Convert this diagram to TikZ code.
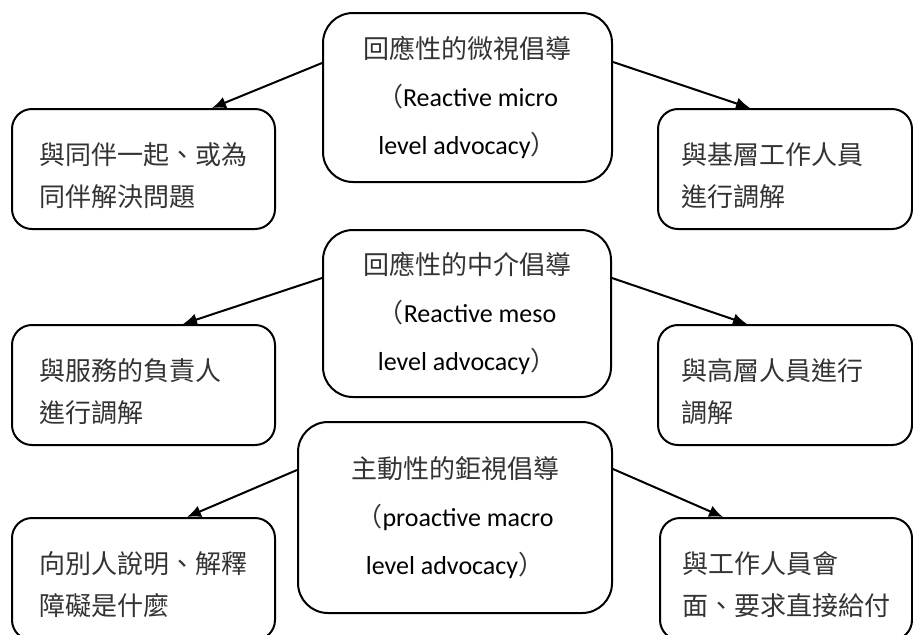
\documentclass[tikz,border=0pt]{standalone}
\usepackage{fontspec}
\setmainfont{Carlito}
\newfontfamily\cjkfont{Noto Sans CJK TC}
\newcommand\cjk{\cjkfont\color{black!80}}
\usetikzlibrary{arrows.meta,positioning,calc}
\tikzset{
  % Advocacy level box: centre column, three lines
  advbox/.style={draw, rectangle, rounded corners=15pt, line width=1pt,
                 align=center, inner sep=0pt,
                 font=\fontsize{13pt}{24pt}\selectfont},
  % Action box: side columns, two lines, left aligned
  actbox/.style={draw, rectangle, rounded corners=10pt, line width=1pt,
                 minimum width=131.5pt, minimum height=60pt,
                 text width=104pt, align=left, inner sep=0pt,
                 font=\fontsize{13pt}{21pt}\selectfont},
  actbox-right/.style={actbox, minimum width=127pt},
  % Push the text block down a little inside its box
  textdrop/.style={execute at begin node={\rule{0pt}{#1}}},
  % Arrows
  flowarr/.style={-{Latex[length=7pt,width=6pt]}, line width=1pt}
}

\begin{document}
\begin{tikzpicture}[x=0.5pt, y=-0.5pt]
\useasboundingbox (0,0) rectangle (913,634);

% Reactive micro level, top row
\node[advbox, textdrop=17.5pt, minimum width=144.5pt, minimum height=84.5pt] (micro) at (467.5,97.5)
  {{\cjk 回應性的微視倡導}\\{\cjk （}Reactive micro\\level advocacy{\cjk ）}};
\node[actbox, textdrop=18pt] (peer) at (143.5,169)
  {{\cjk 與同伴一起、或為}\\{\cjk 同伴解決問題}};
\node[actbox-right, textdrop=18pt] (frontline) at (785,169)
  {{\cjk 與基層工作人員}\\{\cjk 進行調解}};
\draw[flowarr] ([yshift=17.25pt]micro.west) -- ([xshift=34.25pt]peer.north);
\draw[flowarr] ([yshift=17.75pt]micro.east) -- ([xshift=-17.5pt]frontline.north);

% Reactive meso level, middle row
\node[advbox, textdrop=18.5pt, minimum width=144pt, minimum height=83.5pt] (meso) at (467,313.5)
  {{\cjk 回應性的中介倡導}\\{\cjk （}Reactive meso\\level advocacy{\cjk ）}};
\node[actbox, textdrop=17.5pt] (manager) at (143.5,385)
  {{\cjk 與服務的負責人}\\{\cjk 進行調解}};
\node[actbox-right, textdrop=17.5pt] (senior) at (785,385)
  {{\cjk 與高層人員進行}\\{\cjk 調解}};
\draw[flowarr] ([yshift=17.75pt]meso.west) -- ([xshift=19.75pt]manager.north);
\draw[flowarr] ([yshift=17.75pt]meso.east) -- ([xshift=-19pt]senior.north);

% Proactive macro level, bottom row (boxes run off the page)
\node[advbox, minimum width=157pt, minimum height=95.5pt] (macro) at (455,517.5)
  {{\cjk 主動性的鉅視倡導}\\{\cjk （}proactive macro\\level advocacy{\cjk ）}};
\node[actbox, textdrop=17pt, minimum height=61pt] (explain) at (143.5,579)
  {{\cjk 向別人說明、解釋}\\{\cjk 障礙是什麼}};
\node[actbox, textdrop=17pt, minimum width=126pt, minimum height=61pt] (meet) at (786,579)
  {{\cjk 與工作人員會}\\{\cjk 面、要求直接給付}};
\draw[flowarr] ([yshift=23.75pt]macro.west) -- ([xshift=21.75pt]explain.north);
\draw[flowarr] ([yshift=24.25pt]macro.east) -- ([xshift=-31.5pt]meet.north);

\end{tikzpicture}
\end{document}
